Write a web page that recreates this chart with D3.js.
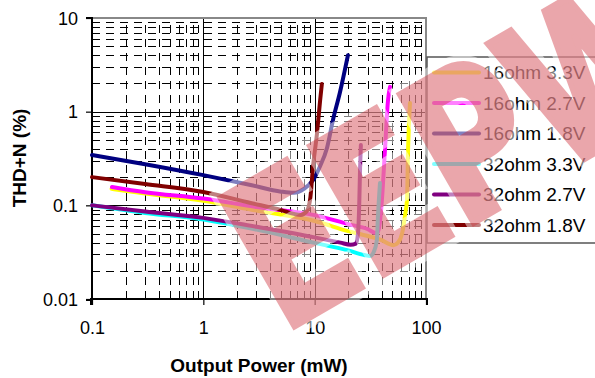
<!DOCTYPE html>
<html><head><meta charset="utf-8">
<script src="https://cdn.jsdelivr.net/npm/d3@7"></script>
<style>
html,body{margin:0;padding:0;background:#fff;}
svg{display:block;font-family:"Liberation Sans",Arial,sans-serif;}
</style></head>
<body>
<svg id="chart" width="595" height="378"></svg>
<script>
// ---- data (x = Output Power mW, y = THD+N %) ----
const seriesNames = ["16ohm 3.3V","16ohm 2.7V","16ohm 1.8V","32ohm 3.3V","32ohm 2.7V","32ohm 1.8V"];
const seriesColors = ["#FFFF00","#FF00FF","#000080","#00FFFF","#800080","#800000"];
const s16_33 = [[0.15,0.15],[0.3,0.134],[1,0.112],[3,0.088],[10,0.068],[20,0.053],[30,0.047],[40,0.0425],[47,0.0385],[51,0.0375],[56,0.04],[61,0.05],[65,0.08],[67.5,0.115],[69,0.39],[71.8,1.24]];
const s16_27 = [[0.151,0.157],[0.3,0.138],[1,0.118],[3,0.096],[10,0.0786],[20,0.063],[30,0.0556],[35,0.051],[37,0.0515],[38.5,0.065],[40.2,0.115],[42.8,0.39],[45.6,1.33],[47.5,1.84]];
const s16_18 = [[0.1,0.345],[0.3,0.275],[1,0.21],[2.66,0.165],[5,0.14],[6.5,0.136],[8,0.15],[9.7,0.187],[11.2,0.263],[12.9,0.41],[14.6,0.815],[16.9,1.62],[19.9,4.0]];
const s32_33 = [[0.1,0.1],[0.3,0.083],[1,0.0705],[3,0.055],[10,0.0397],[20,0.033],[28,0.0295],[31.5,0.0288],[34,0.032],[36.2,0.0426],[37,0.075],[38.6,0.173]];
const s32_27 = [[0.1,0.1],[0.3,0.086],[1,0.0735],[3,0.059],[10,0.0455],[17,0.04],[21,0.038],[23.5,0.039],[24.5,0.05],[25.2,0.115],[25.6,0.26],[26,0.44]];
const s32_18 = [[0.1,0.2],[0.3,0.169],[1,0.139],[2.66,0.106],[5,0.089],[6.5,0.081],[7.5,0.079],[8.4,0.085],[9.1,0.115],[9.67,0.26],[10.5,0.59],[11.2,1.33],[11.6,1.97]];
const seriesData = [s16_33,s16_27,s16_18,s32_33,s32_27,s32_18];
const xTicks = [0.1,1,10,100];
const yTicks = [0.01,0.1,1,10];
const xTickLabels = ["0.1","1","10","100"];
const yTickLabels = ["0.01","0.1","1","10"];
const xTitle = "Output Power (mW)";
const yTitle = "THD+N (%)";
const watermarkText = "EEPW";

// ---- layout ----
const L = 92, R = 426, T = 18, B = 299;
const svg = d3.select("#chart");
const x = d3.scaleLog().domain([0.1,100]).range([L,R]);
const y = d3.scaleLog().domain([0.01,10]).range([B,T]);

const minorX = [], minorY = [];
[0.1,1,10].forEach(d => { for (let k=2;k<=9;k++) minorX.push(d*k); });
[0.01,0.1,1].forEach(d => { for (let k=2;k<=9;k++) minorY.push(d*k); });

const g = svg.append("g");
g.append("rect").attr("x",L).attr("y",T).attr("width",R-L).attr("height",B-T).attr("fill","#fff");

const grid = g.append("g").attr("shape-rendering","crispEdges");
grid.selectAll("line.mh").data(minorY).join("line")
  .attr("x1",L).attr("x2",R).attr("y1",d=>Math.round(y(d))+0.5).attr("y2",d=>Math.round(y(d))+0.5)
  .attr("stroke","#000").attr("stroke-width",1).attr("stroke-dasharray","8,6");
grid.selectAll("line.mv").data(minorX).join("line")
  .attr("y1",B).attr("y2",T).attr("x1",d=>Math.round(x(d))+0.5).attr("x2",d=>Math.round(x(d))+0.5)
  .attr("stroke","#000").attr("stroke-width",1).attr("stroke-dasharray","8,6");
grid.selectAll("line.Mh").data([0.1,1]).join("line")
  .attr("x1",L).attr("x2",R).attr("y1",d=>Math.round(y(d))+0.5).attr("y2",d=>Math.round(y(d))+0.5)
  .attr("stroke","#000").attr("stroke-width",1);
grid.selectAll("line.Mv").data([1,10]).join("line")
  .attr("y1",B).attr("y2",T).attr("x1",d=>Math.round(x(d))+0.5).attr("x2",d=>Math.round(x(d))+0.5)
  .attr("stroke","#000").attr("stroke-width",1);

g.append("line").attr("x1",L).attr("x2",R+1).attr("y1",T).attr("y2",T).attr("stroke","#888").attr("stroke-width",2);
g.append("line").attr("x1",R).attr("x2",R).attr("y1",T).attr("y2",B).attr("stroke","#888").attr("stroke-width",2);

const xAxis = d3.axisBottom(x).tickValues(xTicks).tickSize(6).tickFormat((d,i)=>xTickLabels[i]);
const yAxis = d3.axisLeft(y).tickValues(yTicks).tickSize(6).tickFormat((d,i)=>yTickLabels[i]);
const gx = svg.append("g").attr("transform",`translate(0,${B})`).call(xAxis);
const gy = svg.append("g").attr("transform",`translate(${L},0)`).call(yAxis);
[gx,gy].forEach(a=>{
  a.select(".domain").attr("stroke","#000").attr("stroke-width",2);
  a.selectAll(".tick line").attr("stroke","#000").attr("stroke-width",1.2);
  a.selectAll(".tick text").attr("fill","#000").attr("font-size",18).attr("font-family","'Liberation Sans',Arial,sans-serif");
});
gx.select(".domain").attr("d",`M${L-1},6V0H${R+1}V6`);
gy.select(".domain").attr("d",`M-6,${T}H0V${B+1}H-6`);
gx.selectAll(".tick text").attr("y",22).attr("dy","0.71em");
gy.selectAll(".tick text").attr("x",-14).attr("dy","0.35em");

svg.append("text").attr("x",259).attr("y",372).attr("text-anchor","middle")
  .attr("font-size",19).attr("font-weight","bold").text(xTitle);
svg.append("text").attr("transform","translate(26,158) rotate(-90)").attr("text-anchor","middle")
  .attr("font-size",19).attr("font-weight","bold").text(yTitle);

const line = d3.line().x(d=>x(d[0])).y(d=>y(d[1])).curve(d3.curveMonotoneX);
svg.append("g").selectAll("path").data(seriesData).join("path")
  .attr("d",line).attr("fill","none")
  .attr("stroke",(d,i)=>seriesColors[i]).attr("stroke-width",4)
  .attr("stroke-linecap","round").attr("stroke-linejoin","round");

const lg = svg.append("g");
lg.append("rect").attr("x",427).attr("y",57).attr("width",200).attr("height",186)
  .attr("fill","#fff").attr("stroke","#555").attr("stroke-width",1.5);
seriesNames.forEach((n,i)=>{
  const cy = 72.5 + i*30.5;
  lg.append("line").attr("x1",434).attr("x2",479).attr("y1",cy).attr("y2",cy)
    .attr("stroke",seriesColors[i]).attr("stroke-width",4).attr("stroke-linecap","round");
  lg.append("text").attr("x",483).attr("y",cy).attr("dy","0.35em")
    .attr("font-size",19).attr("fill","#000").text(n);
});

// watermark overlay (white halo + translucent red letters)
const wmTransform = "translate(282,333) rotate(-30) scale(0.75,1)";
svg.append("g").attr("opacity",0.5)
  .append("text").attr("transform",wmTransform)
  .attr("font-size",202).attr("font-weight","bold").attr("font-family","'DejaVu Sans',sans-serif")
  .attr("fill","#fff").attr("stroke","#fff").attr("stroke-width",20).attr("stroke-linejoin","miter")
  .text(watermarkText);
svg.append("g").attr("opacity",0.42)
  .append("text").attr("transform",wmTransform)
  .attr("font-size",202).attr("font-weight","bold").attr("font-family","'DejaVu Sans',sans-serif")
  .attr("fill","rgb(206,46,56)").attr("stroke","rgb(206,46,56)").attr("stroke-width",7).attr("stroke-linejoin","miter")
  .text(watermarkText);
</script>
</body></html>
